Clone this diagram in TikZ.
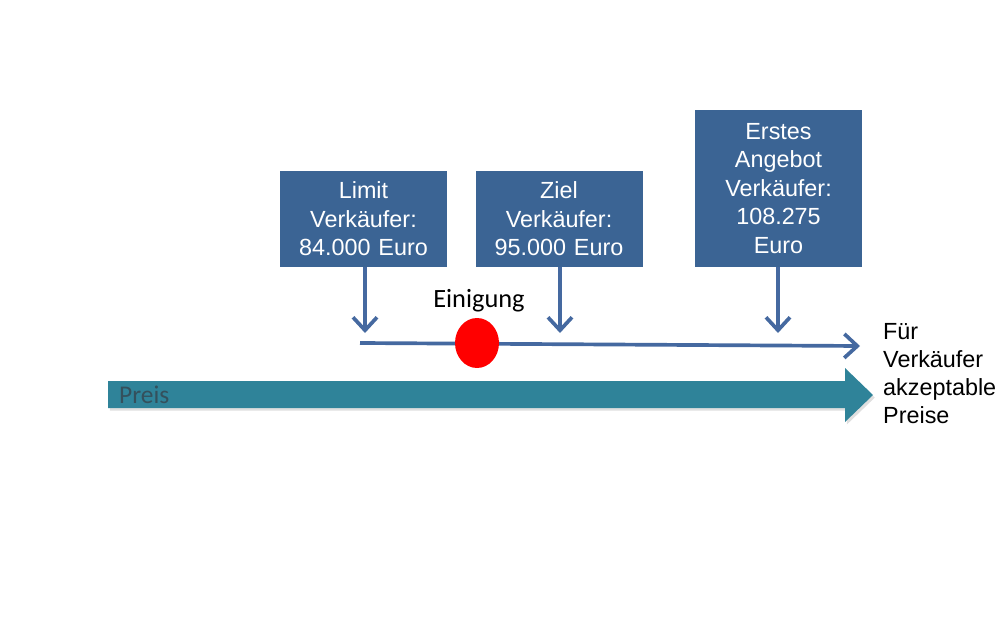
\documentclass[tikz,border=0pt]{standalone}
\usepackage{fontspec}
\setmainfont{Liberation Sans}
\newfontfamily\calibri{Carlito}
\usetikzlibrary{positioning, arrows.meta, shadows, shapes.geometric}
\definecolor{kasten}{HTML}{3B6494}
\definecolor{linie}{HTML}{4569A0}
\definecolor{preisband}{HTML}{2F8399}
\definecolor{preistext}{HTML}{34505C}
\definecolor{einigung}{HTML}{FF0000}

\begin{document}
\begin{tikzpicture}[
  x=0.02cm, y=-0.02cm,
  font=\fontsize{13.3}{16.2}\selectfont,
  kasten/.style={fill=kasten, text=white, align=center, inner sep=2pt,
                 text width=3.2cm, minimum width=3.34cm},
  fl/.style={-{Straight Barb[length=2.6mm, width=4.8mm, line width=2.1pt]},
             linie, line width=2.1pt},
]
\useasboundingbox (0,0) rectangle (1000,625);
% die Preisachse
\fill[preisband, drop shadow={opacity=0.25, shadow xshift=1pt, shadow yshift=-1.5pt}]
  (108,381) -- (845,381) -- (845,368) -- (873,395) -- (845,422) -- (845,408)
  -- (108,408) -- cycle;
\node[anchor=west, font=\calibri\fontsize{14.5}{17}\selectfont, text=preistext]
  (preis) at (113,395) {Preis};
% die drei Marken des Verkäufers
\node[kasten, minimum height=1.92cm] (limit) at (363.5,219)
  {Limit\\Verkäufer:\\84.000 Euro};
\node[kasten, minimum height=1.92cm] (ziel) at (559,219)
  {Ziel\\Verkäufer:\\95.000 Euro};
\node[kasten, minimum height=3.14cm] (angebot) at (778.5,188.5)
  {Erstes\\Angebot\\Verkäufer:\\108.275\\Euro};
% Bereich akzeptabler Preise
\coordinate (von) at (360,343);
\coordinate (bis) at (860,346);
\draw[fl] (von) -- (bis);
\node[anchor=north west, align=left, font=\fontsize{13.3}{15.9}\selectfont]
  (bereich) at (877,317) {Für\\Verkäufer\\akzeptable\\Preise};
\coordinate (l1) at (365,333);
\coordinate (z1) at (560,333);
\coordinate (a1) at (778,333);
\draw[fl] (limit.south -| l1) -- (l1);
\draw[fl] (ziel.south -| z1) -- (z1);
\draw[fl] (angebot.south -| a1) -- (a1);
% Einigung
\node[ellipse, fill=einigung, minimum width=0.88cm, minimum height=1.0cm,
      inner sep=0pt] (punkt) at (477,343) {};
\node[font=\calibri\fontsize{15}{17}\selectfont] (einigung) at (479,301) {Einigung};
\end{tikzpicture}
\end{document}
